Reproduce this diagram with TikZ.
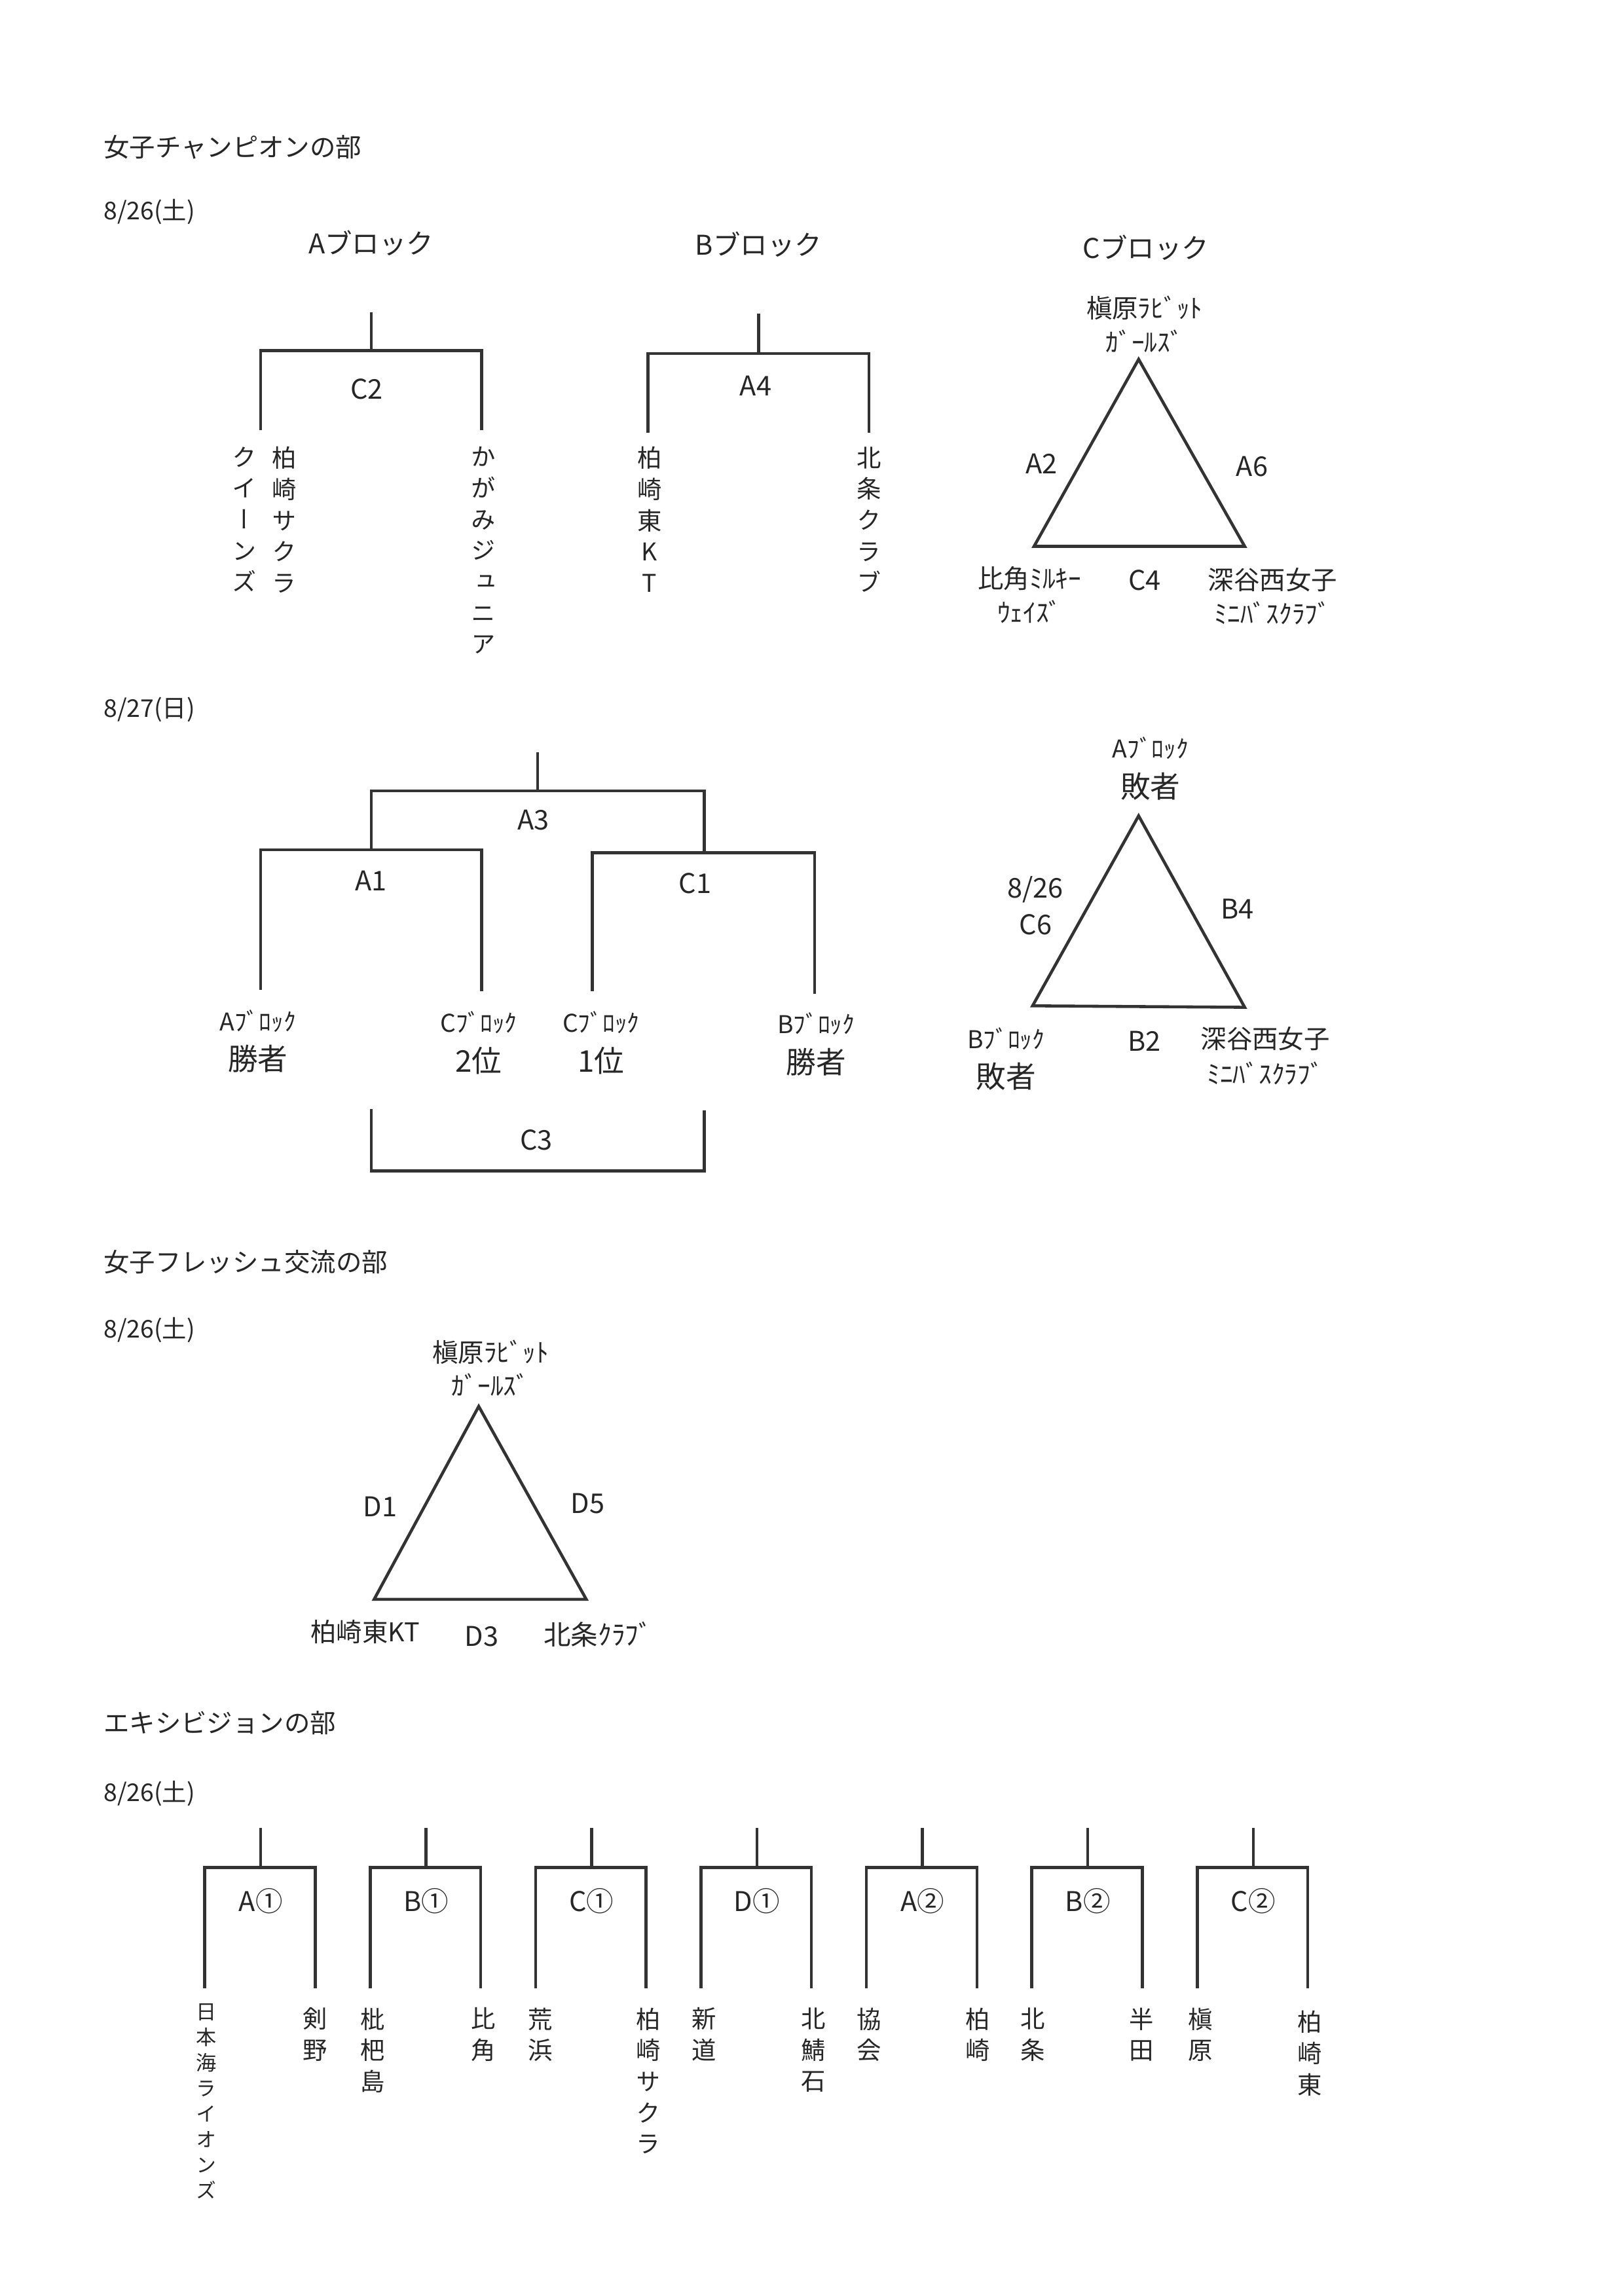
\documentclass[tikz,border=0pt]{standalone}
\usepackage{fontspec}
\setmainfont{Noto Sans CJK JP}
\newfontfamily\tate[RawFeature=+vert]{Noto Sans CJK JP}
\usepackage{tikz}

\begin{document}
\begin{tikzpicture}[x=0.1905mm, y=-0.1905mm,
  every node/.style={text=black!85},
  brk/.style={line width=1.1pt, draw=black!80},
  tri/.style={line width=1.1pt, draw=black!80, line join=miter},
  ttl/.style={anchor=west, inner sep=0pt, font=\fontsize{9.5}{11}\selectfont},
  day/.style={anchor=west, inner sep=0pt, font=\fontsize{9}{11}\selectfont},
  blk/.style={font=\fontsize{10}{12}\selectfont},
  game/.style={font=\fontsize{10}{12}\selectfont},
  team/.style={align=center, inner sep=0pt, font=\fontsize{9.5}{12.5}\selectfont},
  seed/.style={align=center, inner sep=0pt, font=\fontsize{9}{14.6}\selectfont},
  vname/.style={anchor=north, align=center, inner sep=0pt, font=\tate\fontsize{9}{11.5}\selectfont}]
\useasboundingbox (0,0) rectangle (1102.4,1559.1);

% 女子チャンピオンの部
\node[ttl] (ttl1) at (70,100) {女子チャンピオンの部};
\node[day] (day1) at (70,144) {8/26(土)};
\node[blk] (blkA) at (252,165) {Aブロック};
\node[blk] (blkB) at (515,166) {Bブロック};
\node[blk] (blkC) at (778,168) {Cブロック};

% Aブロック
\coordinate (a-top) at (252,212);
\coordinate (a-bar) at (252,238);
\coordinate (a-l) at (177,292);
\coordinate (a-r) at (327,292);
\draw[brk] (a-top) -- (a-bar);
\draw[brk] (a-l) -- (a-l |- a-bar) -- (a-r |- a-bar) -- (a-r);
\node[game] (gC2) at (249,264) {C2};
\node[vname] (kasa) at (193,303) {柏\\崎\\サ\\ク\\ラ};
\node[vname] (kasb) at (166,303) {ク\\イ\\ー\\ン\\ズ};
\node[vname] (kaga) at (328,303) {か\\が\\み\\ジ\\ュ\\ニ\\ア};

% Bブロック
\coordinate (b-top) at (515,213);
\coordinate (b-bar) at (515,240);
\coordinate (b-l) at (440,294);
\coordinate (b-r) at (590,294);
\draw[brk] (b-top) -- (b-bar);
\draw[brk] (b-l) -- (b-l |- b-bar) -- (b-r |- b-bar) -- (b-r);
\node[game] (gA4) at (513,262) {A4};
\node[vname] (kkt) at (441,303) {柏\\崎\\東\\K\\T};
\node[vname] (hoku) at (590,303) {北\\条\\ク\\ラ\\ブ};

% Cブロック
\coordinate (c-top) at (773,244);
\coordinate (c-bl) at (702,371);
\coordinate (c-br) at (845,371);
\draw[tri] (c-top) -- (c-bl) -- (c-br) -- cycle;
\node[team] (maki1) at (777,220) {槇原ﾗﾋﾞｯﾄ\\ｶﾞｰﾙｽﾞ};
\node[game] (gA2) at (707,315) {A2};
\node[game] (gA6) at (850,317) {A6};
\node[team] (hika) at (699,404) {比角ﾐﾙｷｰ\\ｳｪｲｽﾞ};
\node[game] (gC4) at (777,394) {C4};
\node[team] (fuka1) at (864,405) {深谷西女子\\ﾐﾆﾊﾞｽｸﾗﾌﾞ};

% 8/27
\node[day] (day2) at (70,482) {8/27(日)};
\coordinate (f-top) at (365,511);
\coordinate (f-bar) at (365,537);
\coordinate (f-l) at (252,577);
\coordinate (f-r) at (478,579);
\draw[brk] (f-top) -- (f-bar);
\draw[brk] (f-l) -- (f-l |- f-bar) -- (f-r |- f-bar) -- (f-r);
\coordinate (s1-l) at (177,672);
\coordinate (s1-r) at (327,673);
\draw[brk] (s1-l) -- (s1-l |- f-l) -- (s1-r |- f-l) -- (s1-r);
\coordinate (s2-l) at (402,673);
\coordinate (s2-r) at (553,675);
\draw[brk] (s2-l) -- (s2-l |- f-r) -- (s2-r |- f-r) -- (s2-r);
\node[game] (gA3) at (362,557) {A3};
\node[game] (gA1) at (252,598) {A1};
\node[game] (gC1) at (472,600) {C1};
\node[seed] (awin) at (175,707) {Aﾌﾞﾛｯｸ\\{\fontsize{11}{13}\selectfont 勝者}};
\node[seed] (cse2) at (325,708) {Cﾌﾞﾛｯｸ\\{\fontsize{11}{13}\selectfont 2位}};
\node[seed] (cse1) at (408,708) {Cﾌﾞﾛｯｸ\\{\fontsize{11}{13}\selectfont 1位}};
\node[seed] (bwin) at (554,709) {Bﾌﾞﾛｯｸ\\{\fontsize{11}{13}\selectfont 勝者}};
\coordinate (c3-l) at (252,753);
\coordinate (c3-r) at (478,754);
\coordinate (c3-bar) at (365,795);
\draw[brk] (c3-l) -- (c3-l |- c3-bar) -- (c3-r |- c3-bar) -- (c3-r);
\node[game] (gC3) at (364,774) {C3};

% 敗者リーグ
\coordinate (l-top) at (773,554);
\coordinate (l-bl) at (701,683);
\coordinate (l-br) at (845,684);
\draw[tri] (l-top) -- (l-bl) -- (l-br) -- cycle;
\node[seed] (alos) at (781,522) {Aﾌﾞﾛｯｸ\\{\fontsize{11}{13}\selectfont 敗者}};
\node[seed] (blos) at (683,719) {Bﾌﾞﾛｯｸ\\{\fontsize{11}{13}\selectfont 敗者}};
\node[align=center, inner sep=0pt, font=\fontsize{10}{13.5}\selectfont] (gC6) at (703,615) {8/26\\C6};
\node[game] (gB4) at (840,617) {B4};
\node[game] (gB2) at (777,707) {B2};
\node[team, font=\fontsize{9.5}{13}\selectfont] (fuka2) at (859,717) {深谷西女子\\ﾐﾆﾊﾞｽｸﾗﾌﾞ};

% 女子フレッシュ交流の部
\node[ttl] (ttl2) at (70,857) {女子フレッシュ交流の部};
\node[day] (day3) at (70,903) {8/26(土)};
\coordinate (d-top) at (325,955);
\coordinate (d-bl) at (254,1086);
\coordinate (d-br) at (398,1086);
\draw[tri] (d-top) -- (d-bl) -- (d-br) -- cycle;
\node[team] (maki2) at (333,929) {槇原ﾗﾋﾞｯﾄ\\ｶﾞｰﾙｽﾞ};
\node[game] (gD1) at (258,1023) {D1};
\node[game] (gD5) at (399,1021) {D5};
\node[team] (kkt2) at (248,1108) {柏崎東KT};
\node[game] (gD3) at (327,1111) {D3};
\node[team, font=\fontsize{10}{12}\selectfont] (hoku2) at (406,1110) {北条ｸﾗﾌﾞ};

% エキシビジョンの部
\node[ttl] (ttl3) at (70,1170) {エキシビジョンの部};
\node[day] (day4) at (70,1218) {8/26(土)};
\foreach \lab [count=\i from 0] in {A①,B①,C①,D①,A②,B②,C②}{
  \pgfmathsetmacro\cx{177+112.3*\i}
  \coordinate (ex\i-top) at (\cx,1241);
  \coordinate (ex\i-bar) at (\cx,1268);
  \coordinate (ex\i-l) at (\cx-38,1350);
  \coordinate (ex\i-r) at (\cx+37,1350);
  \draw[brk] (ex\i-top) -- (ex\i-bar);
  \draw[brk] (ex\i-l) -- (ex\i-l |- ex\i-bar) -- (ex\i-r |- ex\i-bar) -- (ex\i-r);
  \node[game] (ex\i-lab) at (\cx,1291) {\lab};
}
\node[vname, font=\tate\fontsize{7.5}{9.4}\selectfont] (nihon) at (140,1360) {日\\本\\海\\ラ\\イ\\オ\\ン\\ズ};
\node[vname] (kenn) at (214,1363) {剣\\野};
\node[vname] (biwa) at (253,1363) {枇\\杷\\島};
\node[vname] (hika2) at (328,1363) {比\\角};
\node[vname] (ara) at (367,1363) {荒\\浜};
\node[vname] (kasa2) at (440,1363) {柏\\崎\\サ\\ク\\ラ};
\node[vname] (shin) at (478,1363) {新\\道};
\node[vname] (saba) at (552,1363) {北\\鯖\\石};
\node[vname] (kyou) at (590,1363) {協\\会};
\node[vname] (kasi) at (664,1363) {柏\\崎};
\node[vname] (hoku3) at (701,1363) {北\\条};
\node[vname] (hand) at (775,1363) {半\\田};
\node[vname] (maki3) at (815,1363) {槇\\原};
\node[vname] (kash) at (889,1365) {柏\\崎\\東};
\end{tikzpicture}
\end{document}
